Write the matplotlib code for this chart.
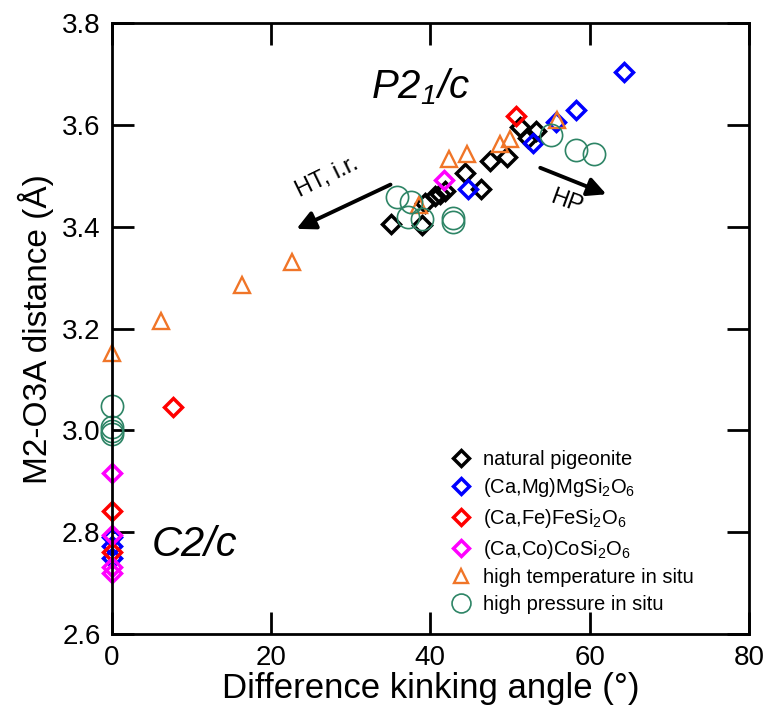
import numpy as np
import matplotlib
matplotlib.use("Agg")
import matplotlib.pyplot as plt

plt.rcParams["font.family"] = ["Liberation Sans", "DejaVu Sans"]
plt.rcParams["mathtext.default"] = "regular"

# natural pigeonite
nat_x = [35.1, 38.9, 39.3, 40.6, 41.2, 41.9, 44.3, 46.3, 47.5, 49.6, 51.2, 53.3, 52.3]
nat_y = [3.405, 3.404, 3.446, 3.460, 3.465, 3.471, 3.506, 3.474, 3.530, 3.537, 3.597, 3.588, 3.575]

# (Ca,Mg)MgSi2O6
mg_x = [64.3, 58.3, 55.8, 52.9, 44.7, 0, 0, 0]
mg_y = [3.705, 3.629, 3.607, 3.565, 3.475, 2.790, 2.772, 2.750]

# (Ca,Fe)FeSi2O6
fe_x = [50.7, 7.7, 0, 0]
fe_y = [3.617, 3.046, 2.841, 2.762]

# (Ca,Co)CoSi2O6
co_x = [41.7, 0, 0, 0, 0]
co_y = [3.492, 2.916, 2.794, 2.732, 2.720]

# high temperature in situ
ht_x = [0, 6.15, 16.3, 22.6, 38.6, 42.3, 44.6, 48.7, 50.0, 55.9]
ht_y = [3.152, 3.215, 3.286, 3.330, 3.442, 3.533, 3.543, 3.563, 3.573, 3.609]

# high pressure in situ
hp_x = [0, 0, 0, 0, 35.8, 37.6, 37.2, 39.0, 42.8, 42.8, 55.2, 58.3, 60.5]
hp_y = [3.047, 3.006, 2.999, 2.992, 3.458, 3.448, 3.420, 3.415, 3.418, 3.409, 3.580, 3.551, 3.544]

x_ticks = [0, 20, 40, 60, 80]
y_ticks = [2.6, 2.8, 3.0, 3.2, 3.4, 3.6, 3.8]

fig = plt.figure(figsize=(7.66, 7.12), dpi=100)
ax = fig.add_axes([0.1458, 0.1096, 0.832, 0.8577])

dia = dict(linestyle="none", marker="D", ms=9.5, mew=2.5, mfc="none", clip_on=False)
ax.plot(nat_x, nat_y, mec="black", label="natural pigeonite", **dia)
ax.plot(mg_x, mg_y, mec="#0000ff", label="(Ca,Mg)MgSi$_2$O$_6$", **dia)
ax.plot(fe_x, fe_y, mec="#ff0000", label="(Ca,Fe)FeSi$_2$O$_6$", **dia)
ax.plot(co_x, co_y, mec="#ff00ff", label="(Ca,Co)CoSi$_2$O$_6$", **dia)
ax.plot(ht_x, ht_y, linestyle="none", marker="^", ms=12, mew=1.7, mfc="none",
        mec="#f07528", clip_on=False, label="high temperature in situ")
ax.plot(hp_x, hp_y, linestyle="none", marker="o", ms=16, mew=1.2, mfc="none",
        mec="#2e8566", clip_on=False, label="high pressure in situ")

# arrows and annotations
arr = dict(arrowstyle="-|>", lw=2.8, color="black", mutation_scale=28, shrinkA=0, shrinkB=0)
ax.annotate("", xy=(23.2, 3.396), xytext=(35.0, 3.483), arrowprops=arr)
ax.annotate("", xy=(62.1, 3.464), xytext=(53.8, 3.516), arrowprops=arr)
ax.text(27.0, 3.497, "HT, i.r.", rotation=26, fontsize=17, ha="center", va="center")
ax.text(57.1, 3.448, "HP", rotation=-20, fontsize=17, ha="center", va="center")
ax.text(32.6, 3.652, "P2$_1$/c", fontsize=29, style="italic", ha="left", va="baseline")
ax.text(5.0, 2.754, "C2/c", fontsize=30, style="italic", ha="left", va="baseline")

ax.set_xlim(0, 80)
ax.set_ylim(2.6, 3.8)
ax.set_xticks(x_ticks)
ax.set_yticks(y_ticks)
ax.set_yticklabels([f"{v:.1f}" for v in y_ticks])
ax.tick_params(direction="in", length=15.5, width=2, labelsize=20, pad=8,
               top=True, right=True)
for s in ax.spines.values():
    s.set_linewidth(2)

ax.set_xlabel("Difference kinking angle (°)", fontsize=25, labelpad=1)
ax.set_ylabel("M2-O3A distance (Å)", fontsize=24, labelpad=6)

ax.legend(loc="upper left", bbox_to_anchor=(0.52, 0.315), frameon=False,
          fontsize=14.5, handlelength=1.0, handletextpad=0.6, labelspacing=0.38,
          borderaxespad=0, markerscale=0.85, numpoints=1)

fig.savefig("out.png", dpi=100)
